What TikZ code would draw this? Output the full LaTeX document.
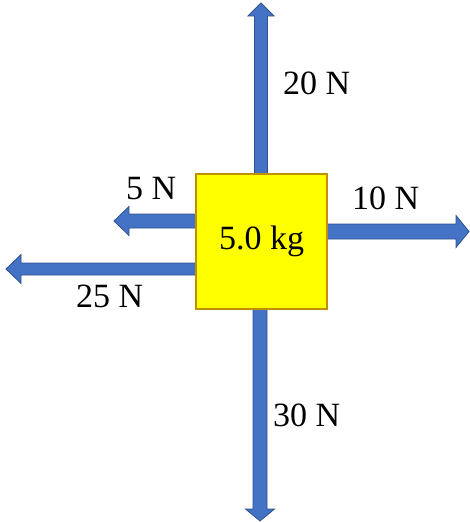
\documentclass[tikz,border=0pt]{standalone}
\usepackage{fontspec}
\setmainfont{Liberation Serif}
\usetikzlibrary{calc}
\definecolor{arrowfill}{HTML}{4472C4}
\definecolor{arrowline}{HTML}{2F528F}
\definecolor{boxfill}{HTML}{FFFF00}
\definecolor{boxline}{HTML}{BF9000}
\tikzset{
  barrow/.style={fill=arrowfill, draw=arrowline, line width=0.8pt, line join=miter},
  massbox/.style={draw=boxline, fill=boxfill, line width=1.5pt, minimum width=131pt, minimum height=135pt, inner sep=0pt, font=\fontsize{34}{40}\selectfont},
  flabel/.style={anchor=base west, inner sep=0pt, font=\fontsize{34}{40}\selectfont}
}
% #1 start, #2 tip, #3 shaft half width, #4 head half width, #5 head length, #6 name
\newcommand{\blockarrow}[6]{%
  \coordinate (#6-h) at ($(#2)!#5!(#1)$);
  \filldraw[barrow] ($(#1)!#3!90:(#2)$) -- ($(#6-h)!#3!-90:(#1)$) -- ($(#6-h)!#4!-90:(#1)$) -- (#2)
    -- ($(#6-h)!#4!90:(#1)$) -- ($(#6-h)!#3!90:(#1)$) -- ($(#1)!#3!-90:(#2)$) -- cycle;
}
\begin{document}
\begin{tikzpicture}[x=1pt,y=-1pt]
\useasboundingbox (0,0) rectangle (470,522);
% anchor points of the forces
\coordinate (upstart) at (261,180);
\coordinate (uptip) at (261,3);
\coordinate (downstart) at (260,303);
\coordinate (downtip) at (260,521);
\coordinate (fivestart) at (200,221);
\coordinate (fivetip) at (114,221);
\coordinate (twentyfivestart) at (200,269);
\coordinate (twentyfivetip) at (6,269);
\coordinate (tenstart) at (322,231.5);
\coordinate (tentip) at (469,231.5);
% arrows
\blockarrow{upstart}{uptip}{6.5pt}{13pt}{13pt}{up}
\blockarrow{downstart}{downtip}{7pt}{14.5pt}{12pt}{down}
\blockarrow{fivestart}{fivetip}{7pt}{14.5pt}{15pt}{five}
\blockarrow{twentyfivestart}{twentyfivetip}{6pt}{14.5pt}{15pt}{twentyfive}
\blockarrow{tenstart}{tentip}{7.5pt}{16pt}{13pt}{ten}
% mass
\node[massbox] (box) at (261.5,241.5) {5.0 kg};
% labels
\node[flabel] (l20) at (283,94) {20 N};
\node[flabel] (l30) at (273,426) {30 N};
\node[flabel] (l5) at (126,199) {5 N};
\node[flabel] (l10) at (352,209) {10 N};
\node[flabel] (l25) at (76,307) {25 N};
\end{tikzpicture}
\end{document}
